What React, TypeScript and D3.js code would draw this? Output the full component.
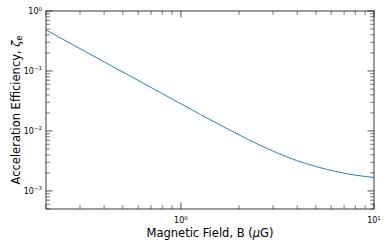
import React from "react";
import * as d3 from "d3";

const fieldB = [0.2, 0.316, 0.501, 0.794, 1.0, 1.259, 1.585, 1.995, 2.512, 3.162, 3.981, 5.012, 6.31, 7.943, 10];
const efficiency = [0.482, 0.215, 0.0957, 0.0426, 0.0284, 0.0189, 0.01274, 0.00865, 0.00598, 0.00429, 0.00321, 0.00255, 0.00212, 0.00184, 0.00168];
const xMajorExp = [0, 1];
const yMajorExp = [0, -1, -2, -3];

const W = 390, H = 249;
const M = { left: 46, right: 374, top: 11, bottom: 209 };

export default function App() {
  const x = d3.scaleLog().domain([0.2, 10]).range([M.left, M.right]);
  const y = d3.scaleLog().domain([5e-4, 1]).range([M.bottom, M.top]);

  const xMinor: number[] = [];
  for (let e = -1; e <= 0; e++) for (let m = 2; m <= 9; m++) {
    const v = m * Math.pow(10, e);
    if (v >= 0.2 && v <= 10) xMinor.push(v);
  }
  const yMinor: number[] = [];
  for (let e = -4; e <= -1; e++) for (let m = 2; m <= 9; m++) {
    const v = m * Math.pow(10, e);
    if (v >= 5e-4 && v <= 1) yMinor.push(v);
  }

  const line = d3.line<number>()
    .x((_, i) => x(fieldB[i]))
    .y((d) => y(d))
    .curve(d3.curveMonotoneX);

  const stroke = "#222";
  const font = "DejaVu Sans, sans-serif";
  const MAJ = 6.5, MIN = 4;

  return (
    <svg width={W} height={H} style={{ position: "absolute", left: 0, top: 0 }} fontFamily={font}>
      <rect x={0} y={0} width={W} height={H} fill="#fff" />
      <path d={line(efficiency) || ""} fill="none" stroke="#2a7fc0" strokeWidth={1} />
      {xMajorExp.map((e) => {
        const px = x(Math.pow(10, e));
        return (
          <g key={"xM" + e}>
            <line x1={px} x2={px} y1={M.bottom} y2={M.bottom - MAJ} stroke={stroke} strokeWidth={0.8} />
            <line x1={px} x2={px} y1={M.top} y2={M.top + MAJ} stroke={stroke} strokeWidth={0.8} />
            <text x={px} y={223} fontSize={8} textAnchor="middle" fill="#000">
              10<tspan fontSize={5.5} dy={-3.5}>{e}</tspan>
            </text>
          </g>
        );
      })}
      {xMinor.map((v, i) => {
        const px = x(v);
        return (
          <g key={"xm" + i}>
            <line x1={px} x2={px} y1={M.bottom} y2={M.bottom - MIN} stroke={stroke} strokeWidth={0.6} />
            <line x1={px} x2={px} y1={M.top} y2={M.top + MIN} stroke={stroke} strokeWidth={0.6} />
          </g>
        );
      })}
      {yMajorExp.map((e) => {
        const py = y(Math.pow(10, e));
        return (
          <g key={"yM" + e}>
            <line x1={M.left} x2={M.left + MAJ} y1={py} y2={py} stroke={stroke} strokeWidth={0.8} />
            <line x1={M.right} x2={M.right - MAJ} y1={py} y2={py} stroke={stroke} strokeWidth={0.8} />
            <text x={42} y={py + 3} fontSize={8} textAnchor="end" fill="#000">
              10<tspan fontSize={5.5} dy={-3.5}>{e === 0 ? "0" : "\u2212" + (-e)}</tspan>
            </text>
          </g>
        );
      })}
      {yMinor.map((v, i) => {
        const py = y(v);
        return (
          <g key={"ym" + i}>
            <line x1={M.left} x2={M.left + MIN} y1={py} y2={py} stroke={stroke} strokeWidth={0.6} />
            <line x1={M.right} x2={M.right - MIN} y1={py} y2={py} stroke={stroke} strokeWidth={0.6} />
          </g>
        );
      })}
      <rect x={M.left} y={M.top} width={M.right - M.left} height={M.bottom - M.top} fill="none" stroke={stroke} strokeWidth={0.9} />
      <text x={(M.left + M.right) / 2} y={237} fontSize={11.5} textAnchor="middle" fill="#000">
        Magnetic Field, B (<tspan fontStyle="italic">μ</tspan>G)
      </text>
      <text transform={`translate(20, ${(M.top + M.bottom) / 2}) rotate(-90)`} fontSize={11.5} textAnchor="middle" fill="#000">
        Acceleration Efficiency, <tspan fontStyle="italic">ζ</tspan><tspan fontStyle="italic" fontSize={8} dy={2}>e</tspan>
      </text>
    </svg>
  );
}
